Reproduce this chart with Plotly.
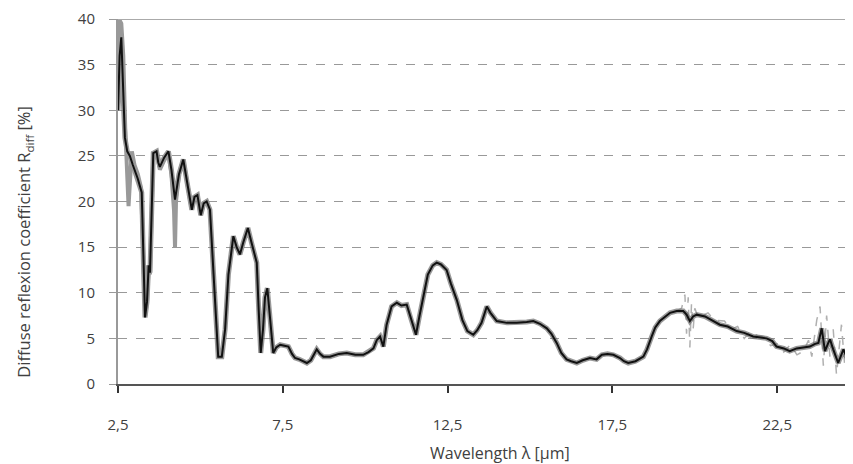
import plotly.graph_objects as go

# Black measured curve (wavelength µm, reflectance %)
wl_black = [2.50, 2.55, 2.60, 2.65, 2.71, 2.78, 2.86, 2.95, 3.10, 3.22, 3.28, 3.32, 3.38, 3.43, 3.47,
            3.52, 3.57, 3.67, 3.72, 3.77, 3.90, 4.03, 4.12, 4.23, 4.35, 4.48, 4.60, 4.74, 4.82, 4.91,
            5.01, 5.10, 5.19, 5.29, 5.40, 5.54, 5.65, 5.75, 5.85, 6.00, 6.10, 6.20, 6.30, 6.44, 6.55,
            6.71, 6.77, 6.83, 6.90, 6.96, 7.03, 7.10, 7.21, 7.30, 7.42, 7.55, 7.67, 7.78, 7.87, 8.00,
            8.10, 8.23, 8.35, 8.45, 8.53, 8.63, 8.73, 8.93, 9.20, 9.44, 9.70, 9.94, 10.10, 10.25, 10.35,
            10.45, 10.55, 10.65, 10.80, 10.96, 11.10, 11.26, 11.40, 11.54, 11.65, 11.76, 11.90, 12.05,
            12.17, 12.30, 12.47, 12.60, 12.78, 12.95, 13.10, 13.28, 13.40, 13.53, 13.69, 13.80, 13.99,
            14.30, 14.60, 14.90, 15.10, 15.30, 15.51, 15.65, 15.81, 15.95, 16.11, 16.25, 16.42, 16.60,
            16.82, 17.02, 17.18, 17.35, 17.53, 17.73, 17.85, 17.98, 18.20, 18.44, 18.55, 18.69, 18.80,
            18.94, 19.10, 19.25, 19.45, 19.65, 19.75, 19.85, 19.95, 20.06, 20.31, 20.50, 20.76, 21.00,
            21.27, 21.50, 21.77, 22.00, 22.18, 22.35, 22.48, 22.70, 22.88, 23.09, 23.30, 23.49, 23.65,
            23.75, 23.85, 23.95, 24.05, 24.10, 24.20, 24.35, 24.51, 24.60, 24.71, 24.80]
r_black = [30, 36, 38, 32, 27, 25.5, 25, 24, 22.5, 21, 12, 7.3, 9, 13, 12.2,
           20, 25.3, 25.5, 24.3, 23.8, 24.8, 25.5, 23.5, 20.2, 23, 24.6, 22, 19.1, 20.5, 20.7,
           18.5, 19.8, 20, 19.1, 12, 3.0, 3.0, 6, 12, 16.2, 15, 14.2, 15.5, 17.1, 15.5,
           13.3, 8, 3.4, 6, 9.5, 10.5, 8, 3.4, 4.0, 4.3, 4.2, 4.1, 3.3, 2.85, 2.7,
           2.5, 2.3, 2.6, 3.3, 3.8, 3.3, 3.0, 3.0, 3.3, 3.4, 3.2, 3.2, 3.5, 3.9, 4.8,
           5.2, 4.1, 6.5, 8.5, 8.9, 8.6, 8.7, 7.0, 5.4, 7.5, 9.6, 12, 13,
           13.3, 13.1, 12.5, 11, 9.2, 7, 5.8, 5.4, 5.9, 6.7, 8.5, 7.8, 6.9,
           6.7, 6.7, 6.8, 6.9, 6.6, 6.1, 5.5, 4.5, 3.4, 2.7, 2.5, 2.3, 2.6,
           2.85, 2.7, 3.2, 3.3, 3.2, 2.85, 2.5, 2.3, 2.5, 3.0, 3.8, 5.2, 6.2,
           6.9, 7.4, 7.8, 8.0, 8.0, 7.6, 6.9, 7.4, 7.6, 7.4, 7.0, 6.5, 6.3,
           5.8, 5.6, 5.2, 5.1, 5.0, 4.7, 4.1, 3.9, 3.6, 3.9, 4.0, 4.1, 4.4,
           4.5, 6.1, 3.6, 4.5, 4.9, 3.8, 2.3, 3.8, 3.0, 2.5, 4.3]

# Grey curve, short-wave part (solid band)
wl_grey = [2.50, 2.53, 2.60, 2.66, 2.72, 2.78, 2.82, 2.86, 2.92, 3.00, 3.10, 3.20, 3.28, 3.33, 3.38,
           3.43, 3.47, 3.52, 3.57, 3.67, 3.77, 3.90, 4.03, 4.12, 4.20, 4.23, 4.26, 4.35, 4.48, 4.60,
           4.74, 4.82, 4.91, 5.01, 5.10, 5.19, 5.29]
r_grey = [33, 40, 39.5, 36, 28, 24, 19.5, 22, 25.5, 24, 23, 21.5, 12, 7.5, 9,
          13, 12, 20, 25.3, 25.3, 23.5, 24.5, 25.3, 23, 19, 15, 20, 23, 24.6, 22,
          19.1, 20.5, 20.7, 18.5, 19.8, 20, 19.1]

# Grey curve, long-wave noisy part (dashed)
wl_grey_lw = [19.45, 19.60, 19.70, 19.75, 19.80, 19.85, 19.90, 19.95, 20.00, 20.10, 20.40, 20.60,
              20.90, 21.10, 21.30, 21.50, 21.70, 21.90, 22.10, 22.30, 22.50, 22.70, 22.90, 23.10,
              23.30, 23.45, 23.55, 23.70, 23.80, 23.90, 24.00, 24.10, 24.20, 24.30, 24.45, 24.55,
              24.65, 24.75, 24.80]
r_grey_lw = [8.0, 8.3, 9.8, 5.5, 9.5, 4.0, 8.8, 6.0, 8.3, 7.3, 7.8, 7.0,
             6.9, 6.0, 6.3, 5.0, 5.8, 5.3, 5.2, 4.2, 4.4, 3.5, 4.3, 3.2,
             3.6, 4.8, 3.0, 7.0, 8.5, 2.0, 7.5, 3.0, 6.0, 1.0, 6.5, 2.0,
             5.0, 0.3, 4.0]

x_ticks = [2.5, 7.5, 12.5, 17.5, 22.5]
y_ticks = [0, 5, 10, 15, 20, 25, 30, 35, 40]

x_title = "Wavelength λ [µm]"
y_title = "Diffuse reflexion coefficient R<sub>diff</sub> [%]"

fig = go.Figure()
fig.add_trace(go.Scatter(x=wl_grey_lw, y=r_grey_lw, mode="lines",
                         line=dict(color="#b0b0b0", width=1.5, dash="dash"), hoverinfo="skip"))
fig.add_trace(go.Scatter(x=wl_black, y=r_black, mode="lines",
                         line=dict(color="rgba(110,110,110,0.7)", width=5), hoverinfo="skip"))
fig.add_trace(go.Scatter(x=wl_grey, y=r_grey, mode="lines",
                         line=dict(color="#999999", width=4), hoverinfo="skip"))
fig.add_trace(go.Scatter(x=wl_black, y=r_black, mode="lines",
                         line=dict(color="#111111", width=2), hoverinfo="skip"))

font = dict(family="Open Sans, Noto Sans, sans-serif", size=15, color="#404040")

fig.update_layout(
    width=845, height=456,
    margin=dict(l=110, r=0, t=11, b=80),
    paper_bgcolor="white", plot_bgcolor="white",
    showlegend=False,
    separators=",.",
    font=font,
    xaxis=dict(range=[2.5, 24.8], tickvals=x_ticks, tickformat=".1f",
               showgrid=False, zeroline=False,
               showline=True, linecolor="#555555", linewidth=2,
               ticks="outside", ticklen=7, tickwidth=1.5, tickcolor="#333333",
               ticklabelstandoff=19),
    yaxis=dict(range=[0, 40], tickvals=y_ticks,
               showgrid=True, gridcolor="#999999", griddash="dash", gridwidth=1,
               zeroline=False,
               showline=True, linecolor="#999999", linewidth=2,
               ticks="outside", ticklen=7, tickwidth=1, tickcolor="#999999",
               ticklabelstandoff=11),
    shapes=[dict(type="line", xref="paper", yref="y", x0=0, x1=1, y0=40, y1=40,
                 line=dict(color="#aaaaaa", width=2))],
    annotations=[
        dict(text=x_title, xref="paper", yref="paper", x=0.52, y=0, yshift=-69,
             xanchor="center", yanchor="middle", showarrow=False,
             font=dict(size=16, color="#404040")),
        dict(text=y_title, xref="paper", yref="paper", x=0, y=0.39, xshift=-94,
             xanchor="center", yanchor="middle", textangle=-90, showarrow=False,
             font=dict(size=16.5, color="#404040")),
    ],
)

fig.write_html("out.html")
